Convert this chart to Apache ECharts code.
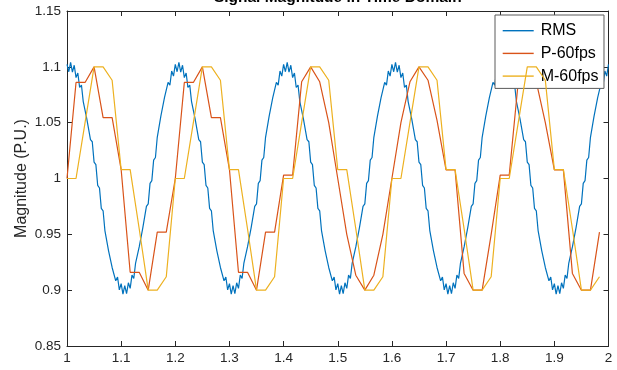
<!DOCTYPE html>
<html>
<head>
<meta charset="utf-8">
<script src="https://cdn.jsdelivr.net/npm/echarts@6/dist/echarts.min.js"></script>
<style>
  html, body { margin: 0; padding: 0; background: #ffffff; }
  #chart { width: 617px; height: 370px; }
</style>
</head>
<body>
<div id="chart"></div>
<script>
// Time base of the continuous RMS trace (seconds)
const rmsStart = 1;
const rmsStep = 1 / 300;
// RMS magnitude, one value per rmsStep
const rmsValues = [
  1.1022, 1.0956, 1.1040, 1.0952, 1.1014, 1.0904, 1.0945, 1.0815, 1.0837, 1.0689, 1.0693, 1.0531,
  1.0522, 1.0348, 1.0329, 1.0147, 1.0124, 0.9939, 0.9915, 0.9732, 0.9711, 0.9534, 0.9522, 0.9355,
  0.9355, 0.9203, 0.9219, 0.9084, 0.9118, 0.9003, 0.9058, 0.8964, 0.9040, 0.8968, 0.9066, 0.9016,
  0.9135, 0.9105, 0.9243, 0.9231, 0.9387, 0.9389, 0.9558, 0.9573, 0.9751, 0.9773, 0.9956, 0.9981,
  1.0165, 1.0188, 1.0369, 1.0386, 1.0558, 1.0565, 1.0725, 1.0717, 1.0861, 1.0836, 1.0962, 1.0917,

  1.1022, 1.0956, 1.1040, 1.0952, 1.1014, 1.0904, 1.0945, 1.0815, 1.0837, 1.0689, 1.0693, 1.0531,
  1.0522, 1.0348, 1.0329, 1.0147, 1.0124, 0.9939, 0.9915, 0.9732, 0.9711, 0.9534, 0.9522, 0.9355,
  0.9355, 0.9203, 0.9219, 0.9084, 0.9118, 0.9003, 0.9058, 0.8964, 0.9040, 0.8968, 0.9066, 0.9016,
  0.9135, 0.9105, 0.9243, 0.9231, 0.9387, 0.9389, 0.9558, 0.9573, 0.9751, 0.9773, 0.9956, 0.9981,
  1.0165, 1.0188, 1.0369, 1.0386, 1.0558, 1.0565, 1.0725, 1.0717, 1.0861, 1.0836, 1.0962, 1.0917,

  1.1022, 1.0956, 1.1040, 1.0952, 1.1014, 1.0904, 1.0945, 1.0815, 1.0837, 1.0689, 1.0693, 1.0531,
  1.0522, 1.0348, 1.0329, 1.0147, 1.0124, 0.9939, 0.9915, 0.9732, 0.9711, 0.9534, 0.9522, 0.9355,
  0.9355, 0.9203, 0.9219, 0.9084, 0.9118, 0.9003, 0.9058, 0.8964, 0.9040, 0.8968, 0.9066, 0.9016,
  0.9135, 0.9105, 0.9243, 0.9231, 0.9387, 0.9389, 0.9558, 0.9573, 0.9751, 0.9773, 0.9956, 0.9981,
  1.0165, 1.0188, 1.0369, 1.0386, 1.0558, 1.0565, 1.0725, 1.0717, 1.0861, 1.0836, 1.0962, 1.0917,

  1.1022, 1.0956, 1.1040, 1.0952, 1.1014, 1.0904, 1.0945, 1.0815, 1.0837, 1.0689, 1.0693, 1.0531,
  1.0522, 1.0348, 1.0329, 1.0147, 1.0124, 0.9939, 0.9915, 0.9732, 0.9711, 0.9534, 0.9522, 0.9355,
  0.9355, 0.9203, 0.9219, 0.9084, 0.9118, 0.9003, 0.9058, 0.8964, 0.9040, 0.8968, 0.9066, 0.9016,
  0.9135, 0.9105, 0.9243, 0.9231, 0.9387, 0.9389, 0.9558, 0.9573, 0.9751, 0.9773, 0.9956, 0.9981,
  1.0165, 1.0188, 1.0369, 1.0386, 1.0558, 1.0565, 1.0725, 1.0717, 1.0861, 1.0836, 1.0962, 1.0917,

  1.1022, 1.0956, 1.1040, 1.0952, 1.1014, 1.0904, 1.0945, 1.0815, 1.0837, 1.0689, 1.0693, 1.0531,
  1.0522, 1.0348, 1.0329, 1.0147, 1.0124, 0.9939, 0.9915, 0.9732, 0.9711, 0.9534, 0.9522, 0.9355,
  0.9355, 0.9203, 0.9219, 0.9084, 0.9118, 0.9003, 0.9058, 0.8964, 0.9040, 0.8968, 0.9066, 0.9016,
  0.9135, 0.9105, 0.9243, 0.9231, 0.9387, 0.9389, 0.9558, 0.9573, 0.9751, 0.9773, 0.9956, 0.9981,
  1.0165, 1.0188, 1.0369, 1.0386, 1.0558, 1.0565, 1.0725, 1.0717, 1.0861, 1.0836, 1.0962, 1.0917,

  1.1022
];

// Frame-based estimates, one value per video frame at 60 fps
const frameStart = 1;
const frameStep = 1 / 60;
const p60Values = [
  1.000, 1.086, 1.086, 1.100, 1.0545, 1.0545, 1.008, 0.916, 0.916, 0.900, 0.952, 0.952,
  1.000, 1.086, 1.086, 1.100, 1.0545, 1.0545, 1.008, 0.916, 0.916, 0.900, 0.952, 0.952,
  1.003, 1.003, 1.0866, 1.100, 1.0866, 1.050, 1.000, 0.950, 0.9134, 0.900, 0.9134, 0.950,
  1.000, 1.050, 1.0866, 1.100, 1.088, 1.052, 1.0077, 1.0077, 0.915, 0.900, 0.900, 0.950,
  1.003, 1.003, 1.0866, 1.100, 1.0866, 1.050, 1.0077, 1.0077, 0.915, 0.900, 0.900, 0.952
];
const m60Values = [
  1.000, 1.000, 1.050, 1.100, 1.100, 1.088, 1.008, 1.008, 0.955, 0.900, 0.900, 0.912,
  1.000, 1.000, 1.050, 1.100, 1.100, 1.088, 1.008, 1.008, 0.955, 0.900, 0.900, 0.912,
  1.000, 1.000, 1.050, 1.100, 1.100, 1.088, 1.008, 1.008, 0.955, 0.900, 0.900, 0.912,
  1.000, 1.000, 1.050, 1.100, 1.100, 1.088, 1.008, 1.008, 0.955, 0.900, 0.900, 0.912,
  1.000, 1.000, 1.050, 1.100, 1.100, 1.088, 1.008, 1.008, 0.955, 0.900, 0.900, 0.912
];

const seriesNames = ['RMS', 'P-60fps', 'M-60fps'];
const seriesColors = ['#0072BD', '#D95319', '#EDB120'];

// Axis ranges and tick spacing
const xRange = [1, 2];
const xTickStep = 0.1;
const yRange = [0.85, 1.15];
const yTickStep = 0.05;

const titleText = 'Signal Magnitude in Time Domain';
const yAxisTitle = 'Magnitude (P.U.)';

function toPairs(values, start, step) {
  return values.map((v, i) => [start + i * step, v]);
}

const axisInk = '#262626';
const fontFamily = '"Liberation Sans", Arial, Helvetica, sans-serif';
const tickFmt = v => String(parseFloat(v.toFixed(2)));

const chart = echarts.init(document.getElementById('chart'), null, { renderer: 'canvas' });

const baseX = {
  type: 'value', min: xRange[0], max: xRange[1], interval: xTickStep,
  axisLine: { show: true, onZero: false, lineStyle: { color: axisInk, width: 1 } },
  axisTick: { show: true, inside: true, length: 5, lineStyle: { color: axisInk, width: 1 } },
  splitLine: { show: false }
};
const baseY = {
  type: 'value', min: yRange[0], max: yRange[1], interval: yTickStep,
  axisLine: { show: true, onZero: false, lineStyle: { color: axisInk, width: 1 } },
  axisTick: { show: true, inside: true, length: 5, lineStyle: { color: axisInk, width: 1 } },
  splitLine: { show: false }
};

chart.setOption({
  animation: false,
  backgroundColor: '#ffffff',
  grid: { left: 67, right: 8.5, top: 11, bottom: 24, containLabel: false, outerBoundsMode: 'none' },
  xAxis: [
    Object.assign({}, baseX, {
      position: 'bottom',
      axisLabel: { show: true, margin: 5, fontSize: 13.5, color: axisInk, fontFamily: fontFamily, formatter: tickFmt }
    }),
    Object.assign({}, baseX, {
      position: 'top',
      axisLabel: { show: false },
      name: titleText,
      nameLocation: 'middle',
      nameGap: 5.4,
      nameMoveOverlap: false,
      nameTextStyle: { fontSize: 15.5, fontWeight: 'bold', color: '#000000', fontFamily: fontFamily }
    })
  ],
  yAxis: [
    Object.assign({}, baseY, {
      position: 'left',
      axisLabel: { show: true, margin: 6, fontSize: 13.5, color: axisInk, fontFamily: fontFamily, formatter: tickFmt },
      name: yAxisTitle,
      nameLocation: 'middle',
      nameGap: 37,
      nameMoveOverlap: false,
      nameTextStyle: { fontSize: 16, color: axisInk, fontFamily: fontFamily }
    }),
    Object.assign({}, baseY, {
      position: 'right',
      axisLabel: { show: false }
    })
  ],
  legend: {
    orient: 'vertical',
    left: 495,
    top: 15,
    padding: [7.7, 5.5, 4.3, 7.7],
    icon: 'rect',
    itemWidth: 31,
    itemHeight: 1.4,
    itemGap: 6.7,
    backgroundColor: '#ffffff',
    borderColor: '#5a5a5a',
    borderWidth: 1,
    borderRadius: 0,
    textStyle: { fontSize: 16, color: '#000000', fontFamily: fontFamily, lineHeight: 16, padding: [0, 0, 0, 2] },
    data: seriesNames
  },
  series: [
    { name: seriesNames[0], data: toPairs(rmsValues, rmsStart, rmsStep) },
    { name: seriesNames[1], data: toPairs(p60Values, frameStart, frameStep) },
    { name: seriesNames[2], data: toPairs(m60Values, frameStart, frameStep) }
  ].map((s, i) => Object.assign({
    type: 'line',
    xAxisIndex: 0,
    yAxisIndex: 0,
    symbol: 'none',
    showSymbol: false,
    smooth: false,
    z: 2 + i,
    color: seriesColors[i],
    lineStyle: { color: seriesColors[i], width: 1.2 }
  }, s))
});
</script>
</body>
</html>
